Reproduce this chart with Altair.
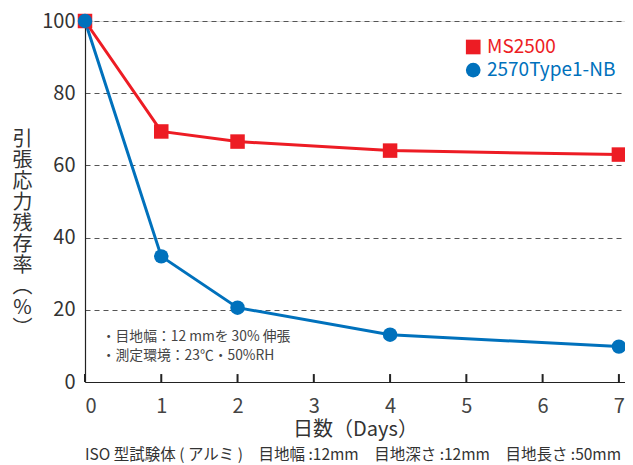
import altair as alt
import pandas as pd

days = [0, 1, 2, 4, 7]
ms2500 = [100, 69.4, 66.6, 64.1, 63.0]
type1nb = [100, 34.8, 20.6, 13.1, 9.8]
series_names = ["MS2500", "2570Type1-NB"]
series_shapes = ["square", "circle"]
colors = ["#ED1C24", "#0071BC"]
y_ticks = [0, 20, 40, 60, 80, 100]
x_ticks = [0, 1, 2, 3, 4, 5, 6, 7]
y_title = ["引", "張", "応", "力", "残", "存", "率", "︵", "%", "︶"]
x_title = "日数（Days）"
notes = ["・目地幅：12 mmを 30% 伸張", "・測定環境：23℃・50%RH"]
note_y = [12.5, 7.2]
footnote = "ISO 型試験体 ( アルミ )　目地幅 :12mm　目地深さ :12mm　目地長さ :50mm"

FONT = "Noto Sans CJK JP"

rows = []
for s, vals in zip(series_names, [ms2500, type1nb]):
    for d, v in zip(days, vals):
        rows.append({"day": d, "value": v, "series": s})
df = pd.DataFrame(rows)

xs = alt.Scale(domain=[0, 7.08], nice=False)
ys = alt.Scale(domain=[0, 100], nice=False)
cs = alt.Scale(domain=series_names, range=colors)
ss = alt.Scale(domain=series_names, range=series_shapes)

x_enc = alt.X("day:Q", scale=xs, axis=alt.Axis(
    values=x_ticks, format="d", title=x_title, grid=False, ticks=False, domainColor="#222",
    domainWidth=1.2, labelFontSize=20, labelColor="#444", labelPadding=14,
    labelFont=FONT, titleFont=FONT, titleFontSize=20, titleFontWeight="normal",
    titleColor="#333", titlePadding=3))
y_enc = alt.Y("value:Q", scale=ys, axis=alt.Axis(
    values=y_ticks, format="d", title=y_title, grid=True, gridDash=[5, 4], gridColor="#555",
    gridWidth=1.2, ticks=False, domainColor="#222", domainWidth=1.2,
    labelFontSize=20, labelColor="#333", labelPadding=10, labelFont=FONT,
    titleFont=FONT, titleFontSize=20, titleFontWeight="normal", titleColor="#333",
    titleAngle=0, titleAlign="center", titleBaseline="top", titleX=-63, titleY=108,
    titleLineHeight=21))

base = alt.Chart(df)

ticks_df = pd.DataFrame({"tday": x_ticks})
tick_marks = alt.Chart(ticks_df).mark_rule(color="#222", strokeWidth=2).encode(
    x=alt.X("tday:Q", scale=xs), y=alt.datum(0), y2=alt.datum(2.2))

lines = base.mark_line(strokeWidth=3).encode(
    x=x_enc, y=y_enc,
    color=alt.Color("series:N", scale=cs, legend=None),
    detail="series:N")

points = base.mark_point(filled=True, opacity=1, size=210).encode(
    x=alt.X("day:Q", scale=xs), y=alt.Y("value:Q", scale=ys),
    color=alt.Color("series:N", scale=cs, legend=None),
    shape=alt.Shape("series:N", scale=ss, legend=None))

legend_df = pd.DataFrame({"series": series_names, "lx": [5.09, 5.09],
                          "ly": [92.8, 86.4], "tx": [5.27, 5.27]})
leg_pts = alt.Chart(legend_df).mark_point(filled=True, opacity=1, size=215).encode(
    x=alt.X("lx:Q", scale=xs), y=alt.Y("ly:Q", scale=ys),
    color=alt.Color("series:N", scale=cs, legend=None),
    shape=alt.Shape("series:N", scale=ss, legend=None))
leg_txt = alt.Chart(legend_df).mark_text(align="left", baseline="middle",
                                         fontSize=19, font=FONT).encode(
    x=alt.X("tx:Q", scale=xs), y=alt.Y("ly:Q", scale=ys),
    text="series:N",
    color=alt.Color("series:N", scale=cs, legend=None))

notes_df = pd.DataFrame({"t": notes, "nx": [0.22, 0.22], "ny": note_y})
note_txt = alt.Chart(notes_df).mark_text(align="left", baseline="middle",
                                         fontSize=13.8, font=FONT, color="#444").encode(
    x=alt.X("nx:Q", scale=xs), y=alt.Y("ny:Q", scale=ys), text="t:N")

foot_df = pd.DataFrame({"t": [footnote], "fx": [0.0], "fy": [-20.2]})
foot_txt = alt.Chart(foot_df).mark_text(align="left", baseline="middle",
                                        fontSize=15.5, font=FONT, color="#333").encode(
    x=alt.X("fx:Q", scale=xs), y=alt.Y("fy:Q", scale=ys), text="t:N")

chart = alt.layer(lines, points, leg_pts, leg_txt, note_txt, foot_txt, tick_marks).properties(
    width=540, height=361,
    autosize=alt.AutoSizeParams(type="none"),
    padding={"left": 77, "top": 13, "right": 0, "bottom": 82},
).configure_view(stroke=None).configure(font=FONT)

chart.save("out.html", embed_options={"renderer": "svg", "actions": False})
